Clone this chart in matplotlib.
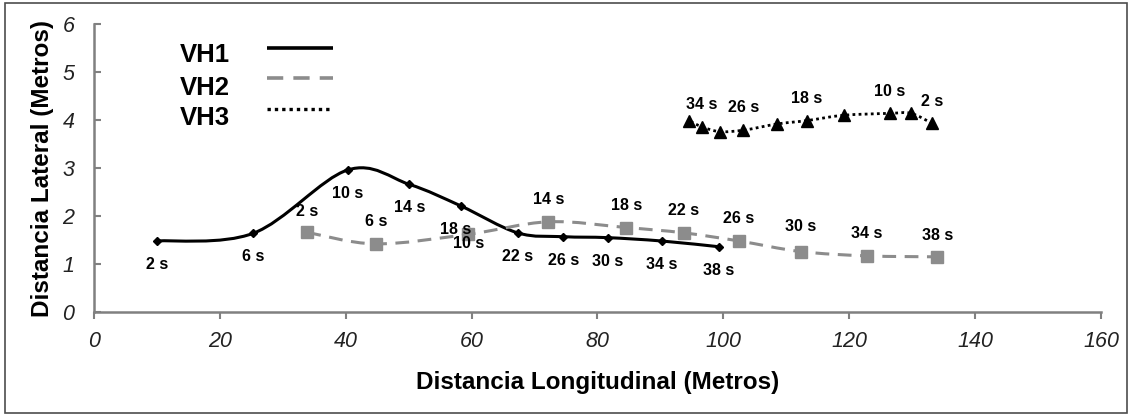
import matplotlib
matplotlib.use("Agg")
import matplotlib.pyplot as plt
from matplotlib.path import Path
from matplotlib.patches import PathPatch, Rectangle
from matplotlib.lines import Line2D

plt.rcParams['font.family'] = ['Liberation Sans', 'DejaVu Sans']

# ---- data ----
vh1_x = [10.0, 25.3, 40.3, 50.1, 58.3, 67.3, 74.6, 81.6, 90.2, 99.3]
vh1_y = [1.48, 1.64, 2.96, 2.66, 2.21, 1.65, 1.57, 1.55, 1.48, 1.36]
vh1_labels = ["2 s", "6 s", "10 s", "14 s", "18 s", "22 s", "26 s", "30 s", "34 s", "38 s"]

vh2_x = [33.9, 44.8, 59.5, 72.2, 84.6, 93.7, 102.5, 112.3, 122.8, 134.0]
vh2_y = [1.66, 1.42, 1.62, 1.88, 1.76, 1.65, 1.48, 1.26, 1.17, 1.15]
vh2_labels = ["2 s", "6 s", "10 s", "14 s", "18 s", "22 s", "26 s", "30 s", "34 s", "38 s"]

vh3_x = [133.2, 129.8, 126.4, 119.1, 113.3, 108.6, 103.2, 99.4, 96.6, 94.5]
vh3_y = [3.93, 4.14, 4.14, 4.10, 3.99, 3.92, 3.79, 3.76, 3.86, 3.99]
vh3_labels = ["2 s", "", "10 s", "", "18 s", "", "26 s", "", "34 s", ""]

series_names = ["VH1", "VH2", "VH3"]
x_ticks = [0, 20, 40, 60, 80, 100, 120, 140, 160]
y_ticks = [0, 1, 2, 3, 4, 5, 6]


def smooth_path(xs, ys):
    """Excel-like smoothed line as cubic Bezier segments."""
    pts = list(zip(xs, ys))
    n = len(pts)
    verts = [pts[0]]
    codes = [Path.MOVETO]
    for i in range(n - 1):
        p0 = pts[i - 1] if i > 0 else pts[i]
        p1 = pts[i]
        p2 = pts[i + 1]
        p3 = pts[i + 2] if i + 2 < n else pts[i + 1]
        c1 = (p1[0] + (p2[0] - p0[0]) / 6, p1[1] + (p2[1] - p0[1]) / 6)
        c2 = (p2[0] - (p3[0] - p1[0]) / 6, p2[1] - (p3[1] - p1[1]) / 6)
        verts += [c1, c2, p2]
        codes += [Path.CURVE4] * 3
    return Path(verts, codes)


fig = plt.figure(figsize=(11.32, 4.16), dpi=100)
ax = fig.add_axes([0.083, 0.25, 0.8896, 0.692])

gray2 = '#8c8c8c'
styles = [
    dict(color='black', ls='-', lw=2.2, marker='D', ms=4.5, mc='black', dashes=None),
    dict(color=gray2, ls='--', lw=2.2, marker='s', ms=8, mc=gray2, dashes=(4.5, 2.8)),
    dict(color='black', ls=':', lw=2.0, marker='^', ms=8, mc='black', dashes=(1, 1.2)),
]
data = [(vh1_x, vh1_y, vh1_labels), (vh2_x, vh2_y, vh2_labels), (vh3_x, vh3_y, vh3_labels)]
label_offsets = [
    [(0, -17)] * 4 + [(-4, -17)] + [(0, -17)] * 5,
    [(0, 15), (0, 16), (0, -7), (0, 16), (0, 16), (0, 16), (0, 16), (0, 18), (0, 16), (0, 15)],
    [(0, 16)] * 10,
]

for (xs, ys, labs), st, offs in zip(data, styles, label_offsets):
    patch = PathPatch(smooth_path(xs, ys), facecolor='none', edgecolor=st['color'],
                      lw=st['lw'], linestyle=(0, st['dashes']) if st['dashes'] else '-',
                      capstyle='butt', zorder=2)
    ax.add_patch(patch)
    ax.plot(xs, ys, ls='none', marker=st['marker'], ms=st['ms'], color=st['mc'], zorder=3)
    for x, y, t, off in zip(xs, ys, labs, offs):
        if t:
            ax.annotate(t, (x, y), xytext=off, textcoords='offset points',
                        ha='center', va='center', fontsize=11.5, fontweight='bold', zorder=4)

ax.set_xlim(0, 160)
ax.set_ylim(0, 6)
ax.set_xticks(x_ticks)
ax.set_yticks(y_ticks)
ax.set_xticklabels([str(v) for v in x_ticks], fontstyle='italic', fontsize=15.5, color='#222222')
ax.set_yticklabels([str(v) for v in y_ticks], fontstyle='italic', fontsize=15.5, color='#222222')
ax.tick_params(axis='x', direction='out', length=5, width=1.5, color='#808080', pad=9)
ax.tick_params(axis='y', direction='in', length=5, width=1.5, color='#808080', pad=14)
for s in ['top', 'right']:
    ax.spines[s].set_visible(False)
for s in ['left', 'bottom']:
    ax.spines[s].set_color('#808080')
    ax.spines[s].set_linewidth(1.8)

ax.set_xlabel('Distancia Longitudinal (Metros)', fontsize=17.5, fontweight='bold', labelpad=13)
ax.set_ylabel('Distancia Lateral (Metros)', fontsize=17.5, fontweight='bold', labelpad=6)

# legend (manual, text left, line sample right)
leg_text_y = [0.868, 0.789, 0.716]
leg_line_y = [0.885, 0.813, 0.739]
for name, st, ty, ly in zip(series_names, styles, leg_text_y, leg_line_y):
    fig.text(0.159, ty, name, fontsize=18.5, fontweight='bold', va='center', ha='left')
    ln = Line2D([0.236, 0.294], [ly, ly], transform=fig.transFigure, color=st['color'],
                lw=st['lw'] + 0.4, solid_capstyle='butt', dash_capstyle='butt')
    if st['dashes']:
        ln.set_dashes(st['dashes'])
    fig.add_artist(ln)

# outer frame
fig.add_artist(Rectangle((0.004, 0.008), 0.992, 0.984, transform=fig.transFigure,
                         fill=False, edgecolor='#4d4d4d', lw=1.2))

fig.savefig('out.png', dpi=100)
